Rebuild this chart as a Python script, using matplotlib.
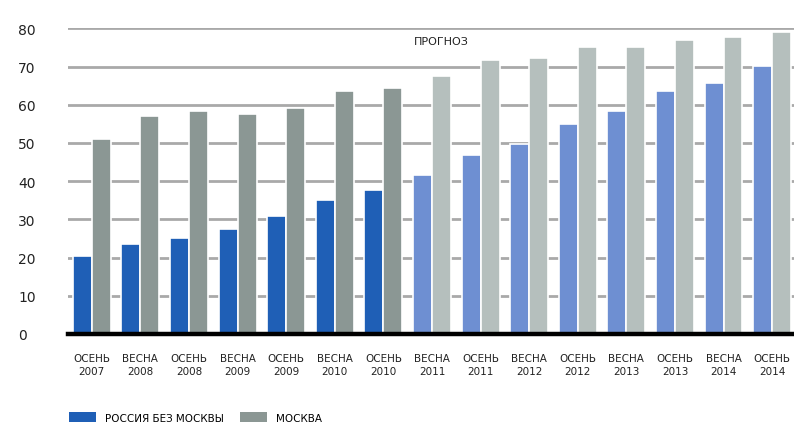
import numpy as np
import matplotlib.pyplot as plt
from matplotlib.patches import Patch

plt.rcParams['font.family'] = ['DejaVu Sans']

# periods along the x axis
periods = ["ОСЕНЬ\n2007", "ВЕСНА\n2008", "ОСЕНЬ\n2008", "ВЕСНА\n2009", "ОСЕНЬ\n2009",
           "ВЕСНА\n2010", "ОСЕНЬ\n2010", "ВЕСНА\n2011", "ОСЕНЬ\n2011", "ВЕСНА\n2012",
           "ОСЕНЬ\n2012", "ВЕСНА\n2013", "ОСЕНЬ\n2013", "ВЕСНА\n2014", "ОСЕНЬ\n2014"]
regions = [20.3, 23.6, 25.0, 27.6, 31.0, 35.1, 37.7, 41.7, 46.9, 49.6,
           55.0, 58.3, 63.7, 65.7, 70.2]
moscow = [51.0, 57.0, 58.4, 57.6, 59.1, 63.7, 64.3, 67.6, 71.7, 72.3,
          75.0, 75.0, 77.0, 77.6, 79.0]
n_actual = 7  # first periods are actual data, the rest is forecast
yticks = [0, 10, 20, 30, 40, 50, 60, 70, 80]

blue_dark, blue_light = "#1f5fb6", "#6e8fd2"
gray_dark, gray_light = "#8b9794", "#b5bfbd"

fig = plt.figure(figsize=(7.94, 4.27), dpi=100)
ax = fig.add_axes([68 / 794, 1 - 335 / 427, 1 - 68 / 794, (335 - 29.3) / 427])

x = np.arange(len(periods))
w = 0.39
c_blue = [blue_dark if i < n_actual else blue_light for i in x]
c_gray = [gray_dark if i < n_actual else gray_light for i in x]

ax.bar(x - w / 2, regions, w, color=c_blue, edgecolor="white", linewidth=1.2, zorder=3)
ax.bar(x + w / 2, moscow, w, color=c_gray, edgecolor="white", linewidth=1.2, zorder=3)

# horizontal grid
for t in yticks[1:]:
    ax.axhline(t, color="#a9a9a9", linewidth=2.0, zorder=1)
ax.axhline(0, color="black", linewidth=3.2, zorder=4, clip_on=False)

ax.set_xlim(-0.49, 14.45)
ax.set_ylim(0, 80)
ax.set_yticks(yticks)
ax.set_yticklabels([str(t) for t in yticks], fontsize=10, color="#222222")
ax.tick_params(axis="y", length=0, pad=36)
for lbl in ax.get_yticklabels():
    lbl.set_horizontalalignment("left")

ax.set_xticks(x)
ax.set_xticklabels(periods, fontsize=7.5, color="#222222", linespacing=1.3)
ax.tick_params(axis="x", length=0, pad=14)

for s in ax.spines.values():
    s.set_visible(False)

ax.text(7.2, 76.8, "ПРОГНОЗ", fontsize=8, ha="center", va="center", color="#222222")

handles = [Patch(facecolor=blue_dark, edgecolor="none"),
           Patch(facecolor=gray_dark, edgecolor="none")]
fig.legend(handles, ["РОССИЯ БЕЗ МОСКВЫ", "МОСКВА"], loc="lower left",
           bbox_to_anchor=(60 / 794, -0.014), ncol=2, frameon=False, fontsize=7.5,
           handlelength=2.6, handleheight=1.0, columnspacing=1.6, handletextpad=0.8)

fig.savefig("out.png", dpi=100)
